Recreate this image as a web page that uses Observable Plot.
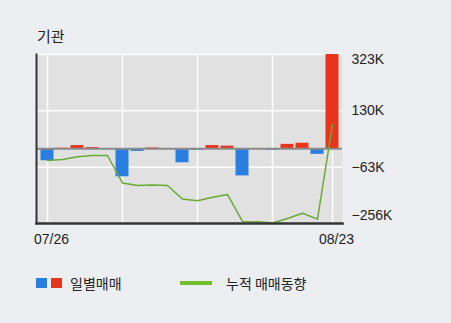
<!DOCTYPE html>
<html><head><meta charset="utf-8">
<script src="https://cdn.jsdelivr.net/npm/d3@7"></script>
<script src="https://cdn.jsdelivr.net/npm/@observablehq/plot@0.6"></script>
<style>
body{margin:0;background:#eceef2;width:451px;height:323px;overflow:hidden;position:relative;font-family:"Liberation Sans",Arial,sans-serif}
#title{position:absolute;left:37px;top:26px;font-size:15px;font-family:"Noto Sans CJK KR",sans-serif;color:#222;line-height:20px}
#chart{position:absolute;left:0;top:0}
.lg{position:absolute;font-family:"Noto Sans CJK KR",sans-serif;font-size:14px;color:#222;line-height:20px;top:273px}
.sw{position:absolute}
</style></head>
<body>
<div id="chart"></div>
<div id="title">기관</div>
<div class="sw" style="left:36px;top:278px;width:11px;height:10px;background:#2a7de1"></div>
<div class="sw" style="left:51px;top:278px;width:11px;height:10px;background:#e8341c"></div>
<div class="lg" style="left:70px">일별매매</div>
<div class="sw" style="left:180px;top:281px;width:32px;height:4px;background:#72be2e"></div>
<div class="lg" style="left:226px">누적 매매동향</div>
<script>
const dates = ["07/26","07/27","07/30","07/31","08/01","08/02","08/03","08/06","08/07","08/08","08/09","08/10","08/13","08/14","08/16","08/17","08/20","08/21","08/22","08/23"];
const daily = [-41, 2, 11, 4, 0, -96, -9, 3, -1, -48, -5, 11, 9, -93, -1, -5, 15, 19, -19, 323];
const cumulative = [-40, -37, -27, -23, -23, -117, -126, -124, -126, -172, -178, -166, -157, -249, -250, -254, -239, -221, -241, 84];
const yTicks = [-256, -63, 130, 323];
const gridDates = ["07/26","08/02","08/09","08/17","08/23"];
const labelDates = ["07/26","08/23"];

const rows = dates.map((d, i) => ({i, date: d, daily: daily[i], cum: cumulative[i]}));
const idx = d => dates.indexOf(d);
const half = 0.433; // half bar width in day units
const fmt = d => (d < 0 ? "\u2212" + (-d) : d) + "K";
const tickFont = "'Liberation Sans', Arial, sans-serif";
const axisStyle = {anchor: "right", tickSize: 0, tickPadding: 9, tickFormat: fmt, fill: "#222", fontSize: 14, fontFamily: tickFont};

const chart = Plot.plot({
  width: 451, height: 260,
  marginLeft: 36, marginRight: 109, marginTop: 54, marginBottom: 37,
  x: {type: "linear", domain: [-0.733, dates.length - 1 + 0.667], axis: null},
  y: {domain: [-256, 323], axis: null},
  style: {background: "transparent", fontFamily: tickFont, fontSize: "14px", color: "#222"},
  marks: [
    Plot.frame({fill: "#e1e1e1", stroke: null}),
    Plot.gridX(gridDates.map(idx), {stroke: "#fff", strokeOpacity: 1, strokeWidth: 1.5}),
    Plot.gridY(yTicks, {stroke: "#fff", strokeOpacity: 1, strokeWidth: 1.5}),
    Plot.rectY(rows, {x1: d => d.i - half, x2: d => d.i + half, y1: 0, y2: "daily", fill: d => d.daily >= 0 ? "#e8341c" : "#2a7de1"}),
    Plot.ruleY([0], {stroke: "#8a8a8a", strokeWidth: 2}),
    Plot.lineY(rows, {x: "i", y: "cum", stroke: "#6aaa38", strokeWidth: 1.5}),
    Plot.frame({anchor: "left", stroke: "#333", strokeWidth: 2, strokeOpacity: 1}),
    Plot.frame({anchor: "bottom", stroke: "#333", strokeWidth: 2.5, strokeOpacity: 1}),
    Plot.axisY([323], {...axisStyle, dy: 5}),
    Plot.axisY([130, -63], {...axisStyle, dy: 0}),
    Plot.axisY([-256], {...axisStyle, dy: -8}),
    Plot.axisX(labelDates.map(idx), {tickSize: 0, tickPadding: 11, dx: 4, fill: "#222", fontSize: 14, fontFamily: tickFont, label: null, tickFormat: i => dates[i]})
  ]
});
document.getElementById("chart").appendChild(chart);
</script>
</body></html>
